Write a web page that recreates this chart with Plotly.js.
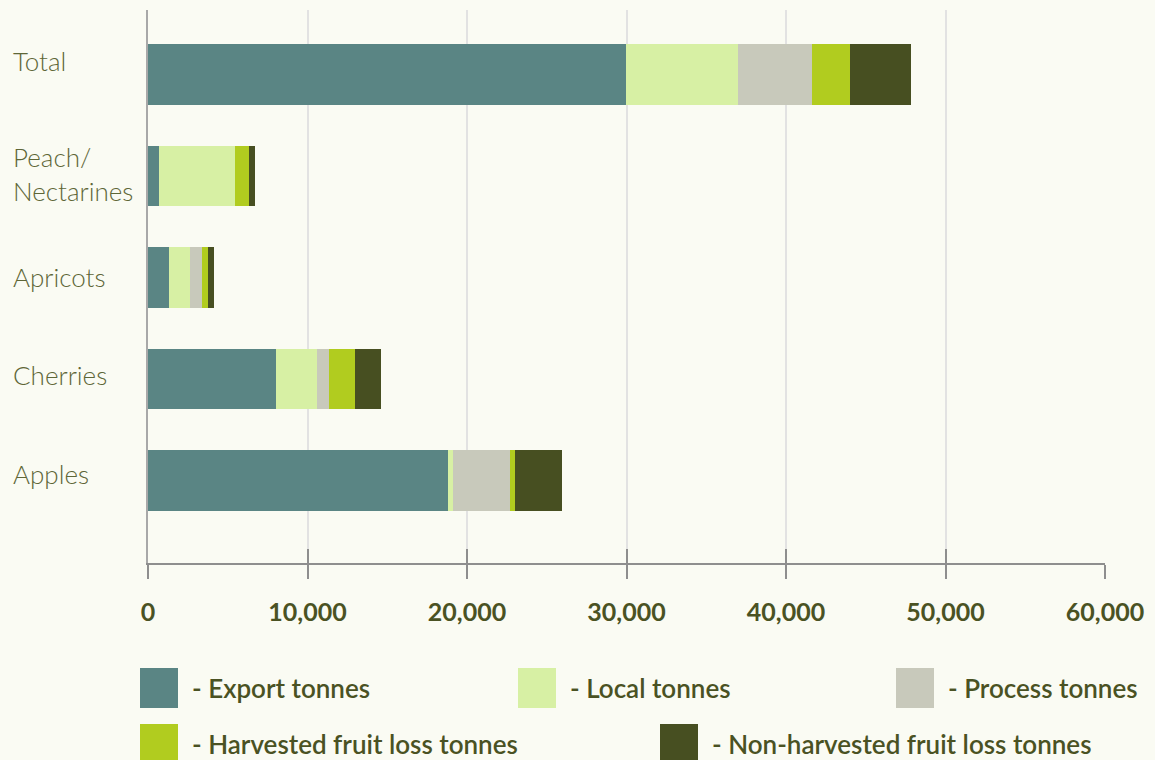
<!DOCTYPE html>
<html>
<head>
<meta charset="utf-8">
<script src="https://cdn.plot.ly/plotly-3.0.1.min.js"></script>
<style>
  html, body { margin: 0; padding: 0; background: #fafbf3; }
  #chart { width: 1155px; height: 760px; }
</style>
</head>
<body>
<div id="chart"></div>
<script>
// ---- Data ----
const categories = ["Apples", "Cherries", "Apricots", "Peach/Nectarines", "Total"];
const categoryLabels = ["Apples", "Cherries", "Apricots", "Peach/<br>Nectarines", "Total"];
const seriesNames = ["- Export tonnes", "- Local tonnes", "- Process tonnes",
                     "- Harvested fruit loss tonnes", "- Non-harvested fruit loss tonnes"];
const exportTonnes        = [18810, 8030, 1320, 690, 29970];
const localTonnes         = [310, 2570, 1320, 4770, 7020];
const processTonnes       = [3570, 750, 750, 0, 4640];
const harvestedLoss       = [310, 1630, 380, 880, 2380];
const nonHarvestedLoss    = [2950, 1630, 370, 370, 3820];
const xTickValues = [0, 10000, 20000, 30000, 40000, 50000, 60000];
const xTickLabels = ["0", "10,000", "20,000", "30,000", "40,000", "50,000", "60,000"];

// ---- Styles ----
const colors = ["#5a8584", "#d7f0a4", "#c8c9bb", "#b1cc1f", "#474f21"];
const seriesValues = [exportTonnes, localTonnes, processTonnes, harvestedLoss, nonHarvestedLoss];
const labelShift = [6, 4, 0, 2, 13];   // vertical nudges (px) for category labels
const textColor = "#4a5223";
const labelColor = "#5e6637";
const bg = "#fafbf3";
const FONT = "Lato, 'Open Sans', sans-serif";

// plot geometry (pixels)
const L = 148, R = 1105, T = 10, B = 563, W = 1155, H = 760;
const pw = R - L, ph = B - T;
const px = x => (x - L) / pw;
const py = y => (B - y) / ph;

const traces = seriesValues.map((vals, i) => ({
  type: "bar",
  orientation: "h",
  name: seriesNames[i],
  y: categories,
  x: vals,
  marker: { color: colors[i], line: { width: 0 } },
  showlegend: false,
  hoverinfo: "x+name"
}));
// helper trace for the inner tick marks axis
traces.push({ type: "bar", orientation: "h", x: [], y: [], xaxis: "x2", yaxis: "y", showlegend: false, hoverinfo: "skip" });

const annotations = [];
categories.forEach((c, i) => {
  annotations.push({
    xref: "paper", yref: "y", x: px(11), y: c, yshift: labelShift[i],
    xanchor: "left", yanchor: "middle", align: "left",
    text: categoryLabels[i], showarrow: false,
    font: { family: FONT, size: 26, color: labelColor, weight: 300 }
  });
});

// custom legend (swatch left x, row)
const legendPos = [
  { sx: 140, row: 0 }, { sx: 518, row: 0 }, { sx: 896, row: 0 },
  { sx: 140, row: 1 }, { sx: 660, row: 1 }
];
const rowTop = [668, 724];
const shapes = [];
legendPos.forEach((p, i) => {
  const top = rowTop[p.row];
  shapes.push({
    type: "rect", xref: "paper", yref: "paper",
    x0: px(p.sx), x1: px(p.sx + 38), y0: py(top + 40), y1: py(top),
    fillcolor: colors[i], line: { width: 0 }, layer: "above"
  });
  annotations.push({
    xref: "paper", yref: "paper", x: px(p.sx + 50), y: py(top + 20),
    xanchor: "left", yanchor: "middle", text: seriesNames[i], showarrow: false,
    font: { family: FONT, size: 26, color: textColor, weight: 600 }
  });
});

const layout = {
  width: W, height: H,
  paper_bgcolor: bg, plot_bgcolor: bg,
  margin: { l: L, r: W - R, t: T, b: H - B, pad: 0 },
  barmode: "stack",
  bargap: 0.4,
  showlegend: false,
  xaxis: {
    range: [0, 60000], tickvals: xTickValues, ticktext: xTickLabels,
    showgrid: true, gridcolor: "#e2e2e2", gridwidth: 2,
    zeroline: false,
    showline: true, linecolor: "#8e8e8e", linewidth: 2,
    ticks: "outside", ticklen: 14, tickwidth: 2, tickcolor: "#8e8e8e",
    ticklabelstandoff: 12,
    tickfont: { family: FONT, size: 25, color: textColor, weight: 700 },
    fixedrange: true
  },
  xaxis2: {
    overlaying: "x", anchor: "y", side: "bottom",
    range: [0, 60000], tickvals: xTickValues,
    showticklabels: false, showgrid: false, zeroline: false, showline: false,
    ticks: "inside", ticklen: 14, tickwidth: 2, tickcolor: "#8e8e8e"
  },
  yaxis: {
    type: "category", categoryorder: "array", categoryarray: categories,
    range: [-0.813, 4.635],
    showticklabels: false, showgrid: false, zeroline: false,
    showline: true, linecolor: "#a8a8a8", linewidth: 2,
    ticks: "", fixedrange: true
  },
  annotations: annotations,
  shapes: shapes
};

Plotly.newPlot("chart", traces, layout, { displayModeBar: false, staticPlot: true });
</script>
</body>
</html>
